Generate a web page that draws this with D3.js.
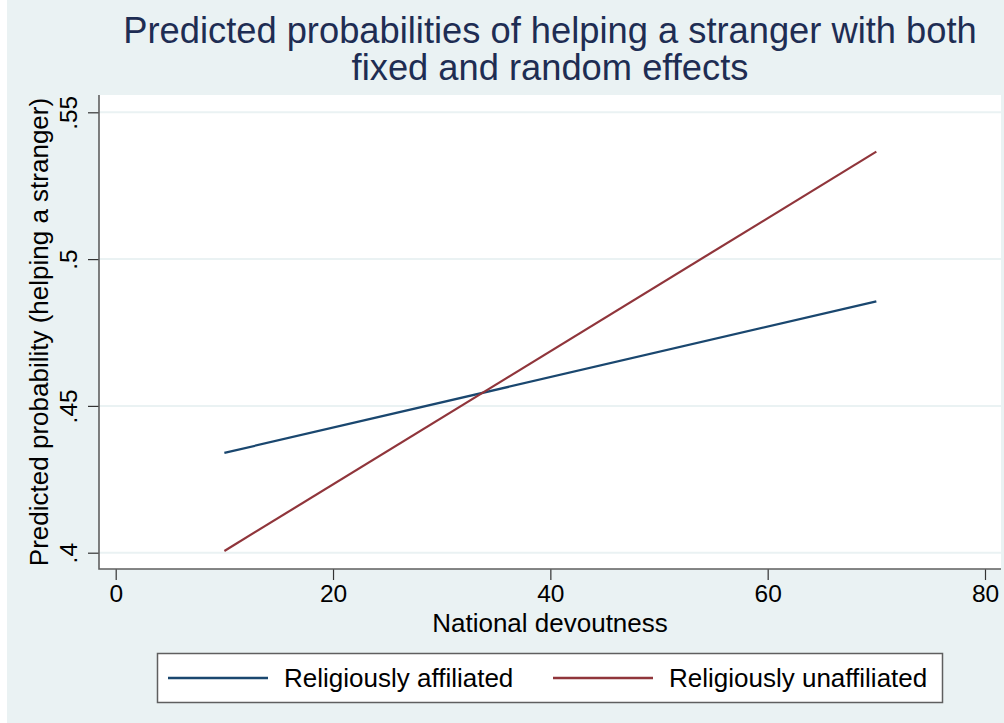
<!DOCTYPE html>
<html>
<head>
<meta charset="utf-8">
<script src="https://cdn.jsdelivr.net/npm/d3@7"></script>
<style>
	body { margin: 0; background: #ffffff; }
	svg text { font-family: "Liberation Sans", Arial, Helvetica, sans-serif; }
</style>
</head>
<body>
<div id="chart"></div>
<script>
// data
var devoutness = [10, 70];
var affiliated = [0.434, 0.4856];
var unaffiliated = [0.4006, 0.5366];
var seriesNames = ["Religiously affiliated", "Religiously unaffiliated"];
var seriesColors = ["#1A476F", "#90353B"];
var xTicks = [0, 20, 40, 60, 80];
var yTicks = [0.4, 0.45, 0.5, 0.55];
var yTickLabels = [".4", ".45", ".5", ".55"];

var width = 1004,
	height = 723;

// plot region box
var plotLeft = 99, plotRight = 1001, plotTop = 95, plotBottom = 569;

var svg = d3.select("#chart")
	.append("svg")
	.attr("width", width)
	.attr("height", height);

// graph background
svg.append("rect")
	.attr("x", 7)
	.attr("y", 0)
	.attr("width", width - 7)
	.attr("height", height)
	.attr("fill", "#EAF2F3");

svg.append("rect")
	.attr("x", plotLeft)
	.attr("y", plotTop)
	.attr("width", plotRight - plotLeft)
	.attr("height", plotBottom - plotTop)
	.attr("fill", "#ffffff");

var x = d3.scaleLinear().domain([0, 80]).range([115.7, 985]);
var y = d3.scaleLinear().domain([0.4, 0.55]).range([552.7, 112.3]);

// horizontal grid lines
svg.selectAll(".grid")
	.data(yTicks)
	.enter()
	.append("line")
	.attr("class", "grid")
	.attr("x1", plotLeft)
	.attr("x2", plotRight)
	.attr("y1", function(d) { return y(d); })
	.attr("y2", function(d) { return y(d); })
	.attr("stroke", "#EAF2F3")
	.attr("stroke-width", 2);

// y axis
var yAxis = svg.append("g")
	.attr("transform", "translate(" + plotLeft + ",0)")
	.call(d3.axisLeft(y)
		.tickValues(yTicks)
		.tickFormat(function(d, i) { return yTickLabels[i]; })
		.tickSize(11)
		.tickSizeOuter(0));
yAxis.select(".domain").remove();
yAxis.selectAll(".tick line").attr("stroke", "#333").attr("stroke-width", 1.2);
yAxis.selectAll(".tick text")
	.attr("x", null)
	.attr("dy", null)
	.attr("transform", "translate(-22,0) rotate(-90)")
	.attr("text-anchor", "middle")
	.attr("fill", "#000")
	.style("font-size", "24.5px");

// x axis
var xAxis = svg.append("g")
	.attr("transform", "translate(0," + plotBottom + ")")
	.call(d3.axisBottom(x)
		.tickValues(xTicks)
		.tickFormat(d3.format("d"))
		.tickSize(11)
		.tickSizeOuter(0));
xAxis.select(".domain").remove();
xAxis.selectAll(".tick line").attr("stroke", "#333").attr("stroke-width", 1.2);
xAxis.selectAll(".tick text")
	.attr("y", 33)
	.attr("dy", null)
	.attr("fill", "#000")
	.style("font-size", "24.5px");

// axis lines (left and bottom only)
svg.append("path")
	.attr("d", "M" + plotLeft + "," + plotTop + "V" + plotBottom + "H" + plotRight)
	.attr("fill", "none")
	.attr("stroke", "#5f5f5f")
	.attr("stroke-width", 1.6);

// series lines
var series = [affiliated, unaffiliated];
var line = d3.line()
	.x(function(d, i) { return x(devoutness[i]); })
	.y(function(d) { return y(d); });

svg.selectAll(".series")
	.data(series)
	.enter()
	.append("path")
	.attr("class", "series")
	.attr("d", line)
	.attr("fill", "none")
	.attr("stroke", function(d, i) { return seriesColors[i]; })
	.attr("stroke-width", 2.2);

// titles
var title = svg.append("text")
	.attr("text-anchor", "middle")
	.attr("fill", "#1E2D53")
	.style("font-size", "36.3px");
title.append("tspan").attr("x", 550).attr("y", 43).text("Predicted probabilities of helping a stranger with both");
title.append("tspan").attr("x", 550).attr("y", 80).text("fixed and random effects");

svg.append("text")
	.attr("transform", "translate(48," + ((plotTop + plotBottom) / 2) + ") rotate(-90)")
	.attr("text-anchor", "middle")
	.attr("fill", "#000")
	.style("font-size", "26px")
	.text("Predicted probability (helping a stranger)");

svg.append("text")
	.attr("x", (plotLeft + plotRight) / 2)
	.attr("y", 632)
	.attr("text-anchor", "middle")
	.attr("fill", "#000")
	.style("font-size", "26px")
	.text("National devoutness");

// legend
var legend = svg.append("g");
legend.append("rect")
	.attr("x", 157.5)
	.attr("y", 653.5)
	.attr("width", 785)
	.attr("height", 49)
	.attr("fill", "#ffffff")
	.attr("stroke", "#5f5f5f")
	.attr("stroke-width", 1.5);

var legendX = [168, 553];
var items = legend.selectAll(".item")
	.data(seriesNames)
	.enter()
	.append("g")
	.attr("class", "item")
	.attr("transform", function(d, i) { return "translate(" + legendX[i] + ",678)"; });

items.append("line")
	.attr("x1", 0)
	.attr("x2", 100)
	.attr("stroke", function(d, i) { return seriesColors[i]; })
	.attr("stroke-width", 2.5);

items.append("text")
	.attr("x", 116)
	.attr("y", 9)
	.attr("fill", "#000")
	.style("font-size", "26px")
	.text(function(d) { return d; });
</script>
</body>
</html>
